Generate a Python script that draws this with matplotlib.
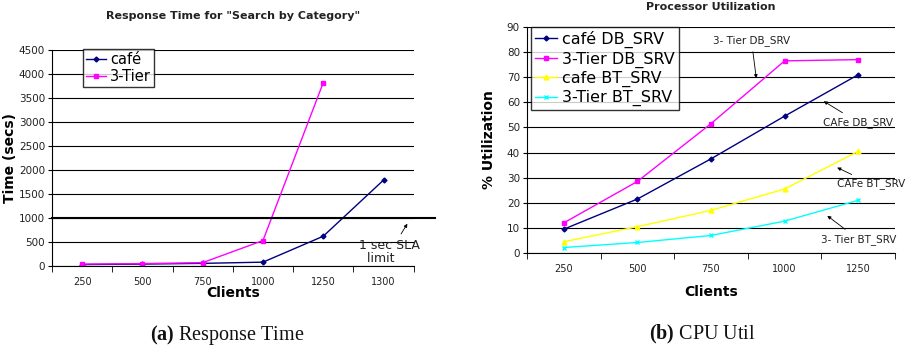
import matplotlib.pyplot as plt

# Response time data (a)
rt_clients = ['250', '500', '750', '1000', '1250', '1300']
rt_cafe = [30, 40, 55, 80, 620, 1790]
rt_3tier = [40, 50, 70, 530, 3820]

# CPU utilisation data (b)
cpu_clients = ['250', '500', '750', '1000', '1250']
cafe_db = [9.5, 21.5, 37.5, 54.5, 71]
tier_db = [12, 28.5, 51.5, 76.5, 77]
cafe_bt = [4.5, 10.5, 17, 25.5, 40.5]
tier_bt = [2.2, 4.2, 7, 12.7, 21]

NAVY = '#000080'
MAG = '#FF00FF'
YEL = '#FFFF00'
CYAN = '#00FFFF'

plt.rcParams['mathtext.fontset'] = 'custom'
plt.rcParams['mathtext.rm'] = 'Liberation Serif'
plt.rcParams['mathtext.bf'] = 'Liberation Serif:bold'


def estilo_eixo(ax, labels):
   n = len(labels)
   ax.set_xlim(-0.5, n - 0.5)
   ax.set_xticks(range(n))
   ax.set_xticklabels(labels)
   ax.set_xticks([i - 0.5 for i in range(n + 1)], minor=True)
   ax.tick_params(axis='x', which='major', length=0, labelsize=7, pad=8,
                  labelcolor='#222222')
   ax.tick_params(axis='x', which='minor', length=4, direction='out')
   ax.tick_params(axis='y', labelsize=7.5, length=3, direction='out', pad=2,
                  labelcolor='#222222')
   ax.spines['top'].set_visible(False)
   ax.spines['right'].set_visible(False)
   ax.yaxis.grid(True, color='black', linewidth=0.8)
   ax.set_axisbelow(True)


fig = plt.figure(figsize=(9.18, 3.5), dpi=100)

# ---- (a) Response time
ax1 = fig.add_axes([0.0566, 0.24, 0.394, 0.617])
estilo_eixo(ax1, rt_clients)
ax1.set_ylim(0, 4500)
ax1.set_yticks(range(0, 4501, 500))
ax1.plot(range(len(rt_cafe)), rt_cafe, color=NAVY, marker='D', markersize=2.5,
         linewidth=1, label='café')
ax1.plot(range(len(rt_3tier)), rt_3tier, color=MAG, marker='s', markersize=3.5,
         linewidth=1, label='3-Tier')
ax1.axhline(1000, xmin=0, xmax=1.06, color='black', linewidth=1.5, clip_on=False)
ax1.annotate('1 sec SLA\n  limit', xy=(5.42, 930), xytext=(4.6, 290), fontsize=9,
             ha='left', va='center', linespacing=1.0, color='#222222',
             arrowprops=dict(arrowstyle='-|>', color='black', lw=0.6, mutation_scale=5),
             annotation_clip=False)
ax1.set_title('Response Time for "Search by Category"', fontsize=8, fontweight='bold',
              pad=22, color='#222222')
ax1.set_xlabel('Clients', fontsize=10, fontweight='bold', labelpad=-1)
ax1.set_ylabel('Time (secs)', fontsize=10, fontweight='bold', labelpad=1)
leg1 = ax1.legend(loc='upper left', bbox_to_anchor=(0.085, 1.005), fontsize=10.5,
                  frameon=True, fancybox=False, edgecolor='black', handlelength=1.4,
                  handletextpad=0.3, borderpad=0.2, labelspacing=0.15, borderaxespad=0)
leg1.get_frame().set_linewidth(1)

# ---- (b) CPU utilisation
ax2 = fig.add_axes([0.574, 0.277, 0.401, 0.646])
estilo_eixo(ax2, cpu_clients)
ax2.set_ylim(0, 90)
ax2.set_yticks(range(0, 91, 10))
ax2.plot(range(5), cafe_db, color=NAVY, marker='D', markersize=2.5, linewidth=1,
         label='café DB_SRV')
ax2.plot(range(5), tier_db, color=MAG, marker='s', markersize=3.5, linewidth=1,
         label='3-Tier DB_SRV')
ax2.plot(range(5), cafe_bt, color=YEL, marker='^', markersize=3.5, linewidth=1,
         label='cafe BT_SRV')
ax2.plot(range(5), tier_bt, color=CYAN, marker='x', markersize=3.5, linewidth=1,
         label='3-Tier BT_SRV')
seta = dict(arrowstyle='-|>', color='black', lw=0.6, mutation_scale=5)
ax2.annotate('3- Tier DB_SRV', xy=(2.62, 68.5), xytext=(2.55, 84.5), fontsize=7.5,
             ha='center', va='center', arrowprops=seta, color='#222222')
ax2.annotate('CAFe DB_SRV', xy=(3.5, 61), xytext=(4.0, 52), fontsize=7.5,
             ha='center', va='center', arrowprops=seta, color='#222222')
ax2.annotate('CAFe BT_SRV', xy=(3.68, 34.5), xytext=(4.18, 27.5), fontsize=7.5,
             ha='center', va='center', arrowprops=seta, color='#222222')
ax2.annotate('3- Tier BT_SRV', xy=(3.55, 15.5), xytext=(4.0, 5.5), fontsize=7.5,
             ha='center', va='center', arrowprops=seta, color='#222222')
ax2.set_title('Processor Utilization', fontsize=8, fontweight='bold', pad=12,
              color='#222222')
ax2.set_xlabel('Clients', fontsize=10, fontweight='bold', labelpad=8)
ax2.set_ylabel('% Utilization', fontsize=10, fontweight='bold', labelpad=8)
leg2 = ax2.legend(loc='upper left', bbox_to_anchor=(0.01, 1.0), fontsize=11.5,
                  frameon=True, fancybox=False, edgecolor='black', handlelength=1.4,
                  handletextpad=0.3, borderpad=0.25, labelspacing=0.2, borderaxespad=0)
leg2.get_frame().set_linewidth(1)

# legendas das figuras
fig.text(0.248, 0.043, r'$\mathbf{(a)}$ Response Time', ha='center', va='center',
         fontsize=14.5, family='Liberation Serif', color='#111111')
fig.text(0.765, 0.043, r'$\mathbf{(b)}$ CPU Util', ha='center', va='center',
         fontsize=14.5, family='Liberation Serif', color='#111111')

plt.savefig('out.png')
